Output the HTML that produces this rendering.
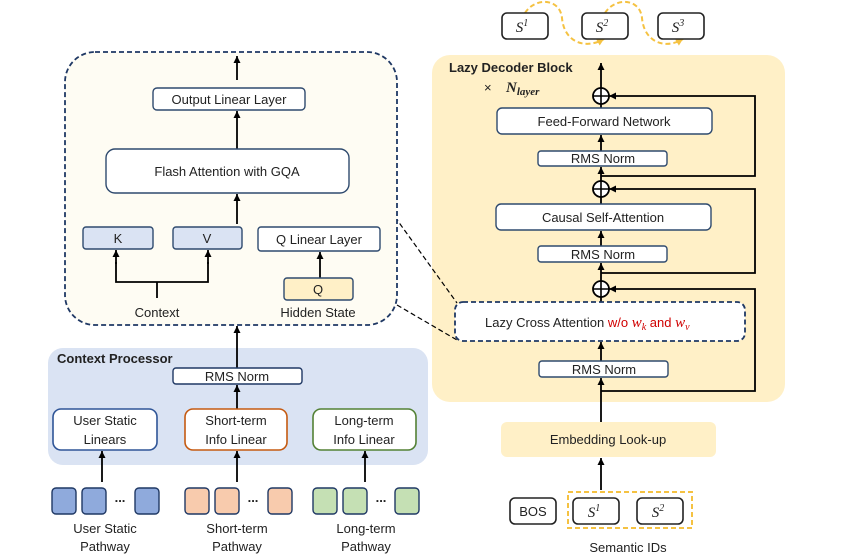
<!DOCTYPE html><html><head><style>body{margin:0;background:#fff}svg{display:block}text{font-family:"Liberation Sans",sans-serif;fill:#222}</style></head><body>
<svg width="859" height="559" viewBox="0 0 859 559" xmlns="http://www.w3.org/2000/svg">
<defs><marker id="a" markerUnits="userSpaceOnUse" markerWidth="8" markerHeight="8" refX="7" refY="3.5" orient="auto"><path d="M0,0 L7,3.5 L0,7z" fill="#000"/></marker>
<marker id="y" markerUnits="userSpaceOnUse" markerWidth="8" markerHeight="8" refX="7" refY="3.5" orient="auto"><path d="M0,0 L7,3.5 L0,7z" fill="#F5C242"/></marker></defs>
<!-- backgrounds -->
<rect x="432" y="55" width="353" height="347" rx="18" fill="#FFF0C7"/>
<rect x="48" y="348" width="380" height="117" rx="15" fill="#DAE3F3"/>
<g stroke="#000" stroke-width="1.2" stroke-dasharray="5,3" fill="none"><line x1="395" y1="217" x2="457" y2="303"/><line x1="397" y1="305" x2="457" y2="340"/></g>
<rect x="65" y="52" width="332" height="273" rx="30" fill="#FEFCF3" stroke="#1F3864" stroke-width="1.8" stroke-dasharray="5,3"/>
<g stroke="#F5C242" stroke-width="2" stroke-dasharray="5,3" fill="none">
<path d="M525,13 C535,-3 560,-2 562,18 C564,42 585,50 604,39" marker-end="url(#y)"/>
<path d="M605,13 C615,-3 640,-2 642,18 C644,42 665,50 683,39" marker-end="url(#y)"/>
</g>
<!-- lines -->
<g stroke="#000" stroke-width="1.8" fill="none">
<line x1="601" y1="88" x2="601" y2="63" marker-end="url(#a)"/>
<line x1="601" y1="108" x2="601" y2="104"/>
<line x1="601" y1="151" x2="601" y2="135" marker-end="url(#a)"/>
<line x1="601" y1="181" x2="601" y2="167" marker-end="url(#a)"/>
<line x1="601" y1="204" x2="601" y2="197"/>
<line x1="601" y1="246" x2="601" y2="231" marker-end="url(#a)"/>
<line x1="601" y1="281" x2="601" y2="263" marker-end="url(#a)"/>
<line x1="601" y1="302" x2="601" y2="297"/>
<line x1="601" y1="361" x2="601" y2="342" marker-end="url(#a)"/>
<line x1="601" y1="422" x2="601" y2="378" marker-end="url(#a)"/>
<line x1="601" y1="490" x2="601" y2="458" marker-end="url(#a)"/>
<polyline points="601,176 755,176 755,96 609,96" marker-end="url(#a)"/>
<polyline points="601,273 755,273 755,189 609,189" marker-end="url(#a)"/>
<polyline points="601,391 755,391 755,289 609,289" marker-end="url(#a)"/>
<line x1="237" y1="80" x2="237" y2="56" marker-end="url(#a)"/>
<line x1="237" y1="149" x2="237" y2="111" marker-end="url(#a)"/>
<line x1="237" y1="224" x2="237" y2="194" marker-end="url(#a)"/>
<line x1="320" y1="278" x2="320" y2="252" marker-end="url(#a)"/>
<polyline points="116,262 116,282 208,282 208,262"/>
<line x1="116" y1="264" x2="116" y2="250" marker-end="url(#a)"/><line x1="208" y1="264" x2="208" y2="250" marker-end="url(#a)"/>
<line x1="157" y1="282" x2="157" y2="298"/>
<line x1="237" y1="368" x2="237" y2="326" marker-end="url(#a)"/>
<line x1="237" y1="409" x2="237" y2="385" marker-end="url(#a)"/>
<line x1="102" y1="482" x2="102" y2="451" marker-end="url(#a)"/>
<line x1="237" y1="482" x2="237" y2="451" marker-end="url(#a)"/>
<line x1="365" y1="482" x2="365" y2="451" marker-end="url(#a)"/>
</g>
<g fill="#fff" stroke="#000" stroke-width="1.8">
<circle cx="601" cy="96" r="8"/><circle cx="601" cy="189" r="8"/><circle cx="601" cy="289" r="8"/></g>
<g stroke="#000" stroke-width="1.6"><path d="M593,96h16M601,88v16M593,189h16M601,181v16M593,289h16M601,281v16"/></g>
<!-- top tokens -->
<g fill="#fff" stroke="#222" stroke-width="1.6">
<rect x="502" y="13" width="46" height="26" rx="5"/><rect x="582" y="13" width="46" height="26" rx="5"/><rect x="658" y="13" width="46" height="26" rx="5"/></g>
<g font-style="italic" font-size="15" text-anchor="middle"><text x="522" y="32" style="font-family:'Liberation Serif',serif">S<tspan font-size="10" dy="-6">1</tspan></text><text x="602" y="32" style="font-family:'Liberation Serif',serif">S<tspan font-size="10" dy="-6">2</tspan></text><text x="678" y="32" style="font-family:'Liberation Serif',serif">S<tspan font-size="10" dy="-6">3</tspan></text></g>
<text x="449" y="72" font-size="13" font-weight="bold">Lazy Decoder Block</text>
<text x="484" y="92" font-size="13">×</text><text x="506" y="92" font-size="15" font-weight="bold" font-style="italic" style="font-family:'Liberation Serif',serif">N<tspan font-size="11" dy="3">layer</tspan></text>
<g fill="#fff" stroke="#2F4A6E" stroke-width="1.4">
<rect x="497" y="108" width="215" height="26" rx="5"/><rect x="538" y="151" width="129" height="15" rx="3"/>
<rect x="496" y="204" width="215" height="26" rx="5"/><rect x="538" y="246" width="129" height="16" rx="3"/>
<rect x="539" y="361" width="129" height="16" rx="3"/></g>
<rect x="455" y="302" width="290" height="39" rx="8" fill="#fff" stroke="#1F3864" stroke-width="1.8" stroke-dasharray="5,3"/>
<g font-size="13" text-anchor="middle"><text x="604" y="126">Feed-Forward Network</text><text x="603" y="163">RMS Norm</text><text x="603" y="222">Causal Self-Attention</text><text x="603" y="259">RMS Norm</text><text x="604" y="374">RMS Norm</text></g>
<text x="485" y="327" font-size="13">Lazy Cross Attention <tspan fill="#D00000">w/o </tspan><tspan fill="#D00000" font-style="italic" font-size="15" style="font-family:'Liberation Serif',serif">w<tspan font-size="10" dy="3">k</tspan></tspan><tspan fill="#D00000" dy="-3"> and </tspan><tspan fill="#D00000" font-style="italic" font-size="15" style="font-family:'Liberation Serif',serif">w<tspan font-size="10" dy="3">v</tspan></tspan></text>
<rect x="501" y="422" width="215" height="35" rx="6" fill="#FFF0C7"/>
<text x="608" y="444" font-size="13" text-anchor="middle">Embedding Look-up</text>
<rect x="568" y="492" width="124" height="36" fill="none" stroke="#F5C242" stroke-width="2" stroke-dasharray="5,3"/>
<g fill="#fff" stroke="#222" stroke-width="1.6"><rect x="510" y="498" width="46" height="26" rx="5"/><rect x="573" y="498" width="46" height="26" rx="5"/><rect x="637" y="498" width="46" height="26" rx="5"/></g>
<text x="533" y="516" font-size="13" text-anchor="middle">BOS</text>
<g font-size="15" font-style="italic" text-anchor="middle"><text x="594" y="517" style="font-family:'Liberation Serif',serif">S<tspan font-size="10" dy="-6">1</tspan></text><text x="658" y="517" style="font-family:'Liberation Serif',serif">S<tspan font-size="10" dy="-6">2</tspan></text></g>
<text x="628" y="552" font-size="13" text-anchor="middle">Semantic IDs</text>
<!-- left -->
<g stroke="#2F4A6E" stroke-width="1.4"><rect x="153" y="88" width="152" height="22" rx="4" fill="#fff"/><rect x="106" y="149" width="243" height="44" rx="9" fill="#fff"/>
<rect x="83" y="227" width="70" height="22" rx="3" fill="#DAE3F3"/><rect x="173" y="227" width="69" height="22" rx="3" fill="#DAE3F3"/>
<rect x="258" y="227" width="122" height="24" rx="3" fill="#fff"/><rect x="284" y="278" width="69" height="22" rx="3" fill="#FFF0C7"/></g>
<g font-size="13" text-anchor="middle"><text x="229" y="104">Output Linear Layer</text><text x="227" y="176">Flash Attention with GQA</text><text x="118" y="243">K</text><text x="207" y="243">V</text><text x="319" y="244">Q Linear Layer</text><text x="318" y="294">Q</text><text x="157" y="317">Context</text><text x="318" y="317">Hidden State</text></g>
<text x="57" y="363" font-size="13" font-weight="bold">Context Processor</text>
<rect x="173" y="368" width="129" height="16" rx="3" fill="#fff" stroke="#1F3864" stroke-width="1.4"/>
<text x="237" y="381" font-size="13" text-anchor="middle">RMS Norm</text>
<rect x="53" y="409" width="104" height="41" rx="8" fill="#fff" stroke="#2F5597" stroke-width="1.6"/>
<rect x="185" y="409" width="102" height="41" rx="8" fill="#fff" stroke="#C55A11" stroke-width="1.6"/>
<rect x="313" y="409" width="103" height="41" rx="8" fill="#fff" stroke="#538135" stroke-width="1.6"/>
<g font-size="13" text-anchor="middle"><text x="105" y="425">User Static</text><text x="105" y="444">Linears</text><text x="236" y="425">Short-term</text><text x="236" y="444">Info Linear</text><text x="364" y="425">Long-term</text><text x="364" y="444">Info Linear</text>
<text x="105" y="533">User Static</text><text x="105" y="551">Pathway</text><text x="237" y="533">Short-term</text><text x="237" y="551">Pathway</text><text x="366" y="533">Long-term</text><text x="366" y="551">Pathway</text></g>
<g stroke="#1F3864" stroke-width="1.4">
<g fill="#8FAADC"><rect x="52" y="488" width="24" height="26" rx="4"/><rect x="82" y="488" width="24" height="26" rx="4"/><rect x="135" y="488" width="24" height="26" rx="4"/></g>
<g fill="#F8CBAD"><rect x="185" y="488" width="24" height="26" rx="4"/><rect x="215" y="488" width="24" height="26" rx="4"/><rect x="268" y="488" width="24" height="26" rx="4"/></g>
<g fill="#C5E0B4"><rect x="313" y="488" width="24" height="26" rx="4"/><rect x="343" y="488" width="24" height="26" rx="4"/><rect x="395" y="488" width="24" height="26" rx="4"/></g></g>
<g font-size="13" font-weight="bold" text-anchor="middle"><text x="120" y="502">...</text><text x="253" y="502">...</text><text x="381" y="502">...</text></g>
</svg></body></html>
